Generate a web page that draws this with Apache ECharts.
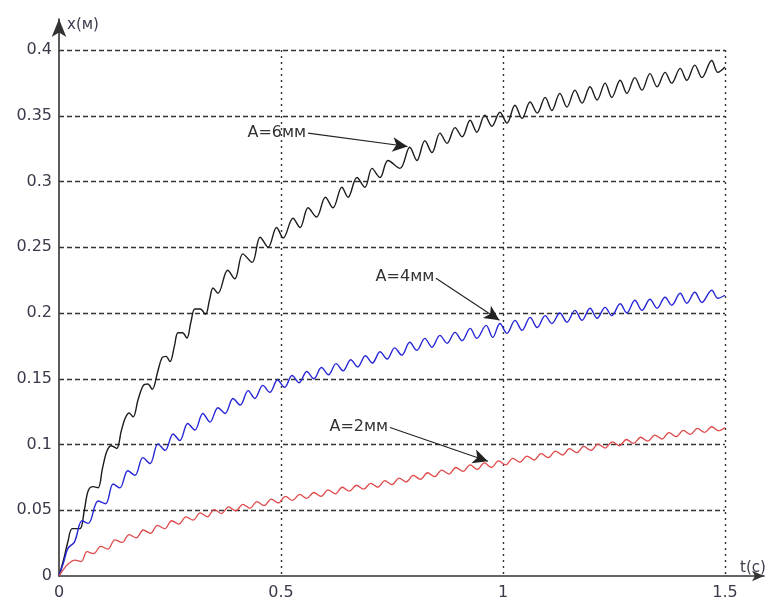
<!DOCTYPE html>
<html>
<head>
<meta charset="utf-8">
<script src="https://cdn.jsdelivr.net/npm/echarts@6/dist/echarts.min.js"></script>
<style>html,body{margin:0;padding:0;background:#fff}#c{width:772px;height:603px}</style>
</head>
<body>
<div id="c"></div>
<script>
// ---- data ----
const xTicksInterval = 0.5;   // t(c)
const yTicksInterval = 0.05;  // x(м)
const xAxisName = 't(c)';
const yAxisName = 'x(м)';

// A = 6 мм (black)
const t6 = [0,0.01,0.02,0.03,0.047,0.057,0.066,0.077,0.088,0.098,0.108,0.118,0.13,0.14,0.149,0.158,0.167,0.178,0.19,0.2,0.21,0.222,0.232,0.241,0.25,0.26,0.268,0.278,0.288,0.297,0.306,0.318,0.33,0.339,0.347,0.358,0.38,0.396,0.414,0.435,0.453,0.471,0.49,0.505,0.527,0.543,0.561,0.58,0.6,0.617,0.637,0.651,0.671,0.689,0.705,0.723,0.741,0.768,0.79,0.806,0.824,0.84,0.858,0.874,0.892,0.908,0.926,0.941,0.959,0.975,0.993,1.009,1.027,1.043,1.061,1.077,1.095,1.11,1.128,1.144,1.162,1.178,1.196,1.212,1.23,1.245,1.264,1.279,1.297,1.313,1.331,1.347,1.365,1.38,1.399,1.414,1.432,1.448,1.47,1.484,1.5];
const x6 = [0,0.012,0.026,0.036,0.036,0.05,0.065,0.068,0.067,0.082,0.095,0.099,0.097,0.11,0.12,0.124,0.121,0.134,0.145,0.146,0.142,0.155,0.166,0.167,0.163,0.175,0.185,0.185,0.181,0.193,0.203,0.203,0.199,0.21,0.219,0.215,0.2325,0.226,0.245,0.2385,0.2576,0.25,0.265,0.257,0.272,0.265,0.28,0.273,0.288,0.28,0.2956,0.288,0.303,0.2956,0.31,0.303,0.316,0.31,0.326,0.316,0.331,0.322,0.3368,0.329,0.341,0.334,0.3466,0.3375,0.3505,0.342,0.3527,0.3444,0.358,0.348,0.3604,0.352,0.364,0.354,0.367,0.3566,0.3695,0.3596,0.372,0.362,0.3748,0.364,0.377,0.367,0.379,0.3695,0.382,0.372,0.383,0.3748,0.386,0.377,0.3885,0.379,0.392,0.383,0.387];

// A = 4 мм (blue)
const t4 = [0,0.01,0.02,0.035,0.052,0.066,0.088,0.105,0.122,0.137,0.155,0.171,0.189,0.205,0.223,0.239,0.257,0.272,0.29,0.306,0.324,0.34,0.358,0.374,0.392,0.408,0.426,0.441,0.459,0.475,0.492,0.508,0.525,0.541,0.558,0.574,0.591,0.607,0.624,0.64,0.657,0.673,0.69,0.706,0.723,0.739,0.756,0.772,0.79,0.806,0.824,0.84,0.858,0.874,0.892,0.908,0.926,0.941,0.962,0.977,0.993,1.009,1.027,1.043,1.061,1.077,1.095,1.11,1.128,1.144,1.162,1.178,1.196,1.212,1.23,1.245,1.264,1.279,1.297,1.313,1.331,1.347,1.365,1.38,1.399,1.414,1.432,1.448,1.47,1.484,1.5];
const x4 = [0,0.01,0.021,0.026,0.042,0.04,0.057,0.055,0.07,0.067,0.08,0.0765,0.09,0.0855,0.1005,0.0955,0.108,0.103,0.116,0.111,0.1236,0.117,0.128,0.1236,0.135,0.13,0.141,0.135,0.145,0.1397,0.149,0.1435,0.1525,0.147,0.1555,0.15,0.1585,0.153,0.1615,0.156,0.1645,0.159,0.1675,0.162,0.1705,0.165,0.1735,0.168,0.1777,0.1716,0.1807,0.174,0.183,0.177,0.1853,0.179,0.1883,0.1807,0.1906,0.1815,0.192,0.1845,0.1944,0.1868,0.1967,0.189,0.198,0.192,0.2,0.193,0.202,0.1944,0.2036,0.196,0.2043,0.198,0.207,0.2,0.2097,0.202,0.2105,0.2036,0.212,0.2059,0.215,0.2074,0.2158,0.208,0.2173,0.2112,0.2135];

// A = 2 мм (red)
const t2 = [0,0.01,0.02,0.036,0.05,0.063,0.078,0.094,0.11,0.126,0.142,0.158,0.174,0.19,0.206,0.222,0.238,0.254,0.27,0.286,0.302,0.318,0.334,0.35,0.366,0.382,0.398,0.414,0.43,0.446,0.462,0.478,0.494,0.51,0.526,0.542,0.558,0.574,0.59,0.606,0.622,0.638,0.654,0.67,0.686,0.702,0.718,0.734,0.75,0.766,0.782,0.798,0.814,0.83,0.846,0.862,0.878,0.894,0.91,0.926,0.942,0.958,0.974,0.99,1.006,1.022,1.038,1.054,1.07,1.086,1.102,1.118,1.134,1.15,1.166,1.182,1.198,1.214,1.23,1.246,1.262,1.278,1.294,1.31,1.326,1.342,1.358,1.374,1.39,1.406,1.422,1.438,1.454,1.47,1.486,1.5];
const x2 = [0,0.005,0.009,0.012,0.011,0.0185,0.017,0.0225,0.0205,0.0275,0.0255,0.0315,0.029,0.035,0.0325,0.0385,0.036,0.042,0.0395,0.045,0.0425,0.048,0.045,0.0505,0.0475,0.0525,0.0495,0.0545,0.0515,0.0565,0.0535,0.0585,0.0555,0.0605,0.0575,0.062,0.059,0.0635,0.0605,0.0655,0.0625,0.0675,0.0645,0.069,0.066,0.0705,0.0675,0.0725,0.0695,0.0745,0.0715,0.0765,0.0735,0.0785,0.0755,0.0805,0.0775,0.0825,0.0795,0.0845,0.081,0.086,0.0825,0.0875,0.0845,0.0895,0.0865,0.0912,0.0882,0.093,0.09,0.095,0.092,0.0968,0.0938,0.0985,0.0955,0.1003,0.0973,0.102,0.099,0.1038,0.1008,0.1055,0.1025,0.1072,0.1042,0.109,0.106,0.1107,0.1077,0.1122,0.1092,0.1135,0.1105,0.113];

// annotations: label, arrow start [t, x], arrow end [t, x]
const annoLabels = ['A=6мм', 'A=4мм', 'A=2мм'];
const annoFrom = [[0.561, 0.3368], [0.849, 0.2264], [0.7455, 0.113]];
const annoTo   = [[0.785, 0.3266], [0.992, 0.1945], [0.966, 0.0872]];

// ---- chart ----
const FONT = 'DejaVu Sans';
const pairs = (t, v) => t.slice(0, Math.min(t.length, v.length)).map((tt, i) => [tt, v[i]]);

function anno(i) {
  return {
    silent: true,
    animation: false,
    symbol: ['none', 'arrow'],
    symbolSize: [11, 15],
    lineStyle: { color: '#222', width: 1.1, type: 'solid' },
    itemStyle: { color: '#111' },
    label: { show: true, position: 'start', distance: 2, formatter: '{b}', fontSize: 16, color: '#333', fontFamily: FONT },
    emphasis: { disabled: true },
    data: [[{ name: annoLabels[i], coord: annoFrom[i] }, { coord: annoTo[i] }]]
  };
}

const chart = echarts.init(document.getElementById('c'), null, { renderer: 'canvas' });
const labelStyle = { fontSize: 16, color: '#3a3a4c', fontFamily: FONT };
chart.setOption({
  animation: false,
  backgroundColor: '#ffffff',
  grid: [
    { left: 59, right: 47, top: 50, bottom: 27 },
    { left: 59, right: 8, top: 19, bottom: 27 }
  ],
  xAxis: [
    {
      type: 'value', gridIndex: 0, min: 0, max: 1.5, interval: xTicksInterval,
      axisLine: { show: false }, axisTick: { show: false },
      axisLabel: Object.assign({ margin: 9 }, labelStyle),
      splitLine: { show: true, showMinLine: false, lineStyle: { type: [2, 4], color: '#333', width: 1.4 } }
    },
    {
      type: 'value', gridIndex: 1, min: 0, max: 1,
      axisLine: { show: true, symbol: ['none', 'arrow'], symbolSize: [8, 12], lineStyle: { color: '#333', width: 1.6 } },
      axisTick: { show: false }, axisLabel: { show: false }, splitLine: { show: false },
      name: xAxisName, nameLocation: 'end', nameGap: -24,
      nameTextStyle: { fontSize: 15, color: '#3a3a4c', fontFamily: FONT, align: 'left', verticalAlign: 'bottom' }
    }
  ],
  yAxis: [
    {
      type: 'value', gridIndex: 0, min: 0, max: 0.4, interval: yTicksInterval,
      axisLine: { show: false }, axisTick: { show: false },
      axisLabel: Object.assign({ margin: 7 }, labelStyle),
      splitLine: { show: true, showMinLine: false, lineStyle: { type: [5, 3], color: '#333', width: 1.3 } }
    },
    {
      type: 'value', gridIndex: 1, min: 0, max: 1,
      axisLine: { show: true, symbol: ['none', 'arrow'], symbolSize: [11, 18], lineStyle: { color: '#333', width: 1.6 } },
      axisTick: { show: false }, axisLabel: { show: false }, splitLine: { show: false },
      name: yAxisName, nameLocation: 'end', nameGap: -6,
      nameTextStyle: { fontSize: 15, color: '#3a3a4c', fontFamily: FONT, align: 'left', verticalAlign: 'middle', padding: [0, 0, 0, 8] }
    }
  ],
  series: [
    {
      name: 'A=6мм', type: 'line', xAxisIndex: 0, yAxisIndex: 0, showSymbol: false, smooth: 0.35,
      lineStyle: { color: '#1c1c1c', width: 1.4 }, data: pairs(t6, x6), markLine: anno(0), z: 3
    },
    {
      name: 'A=4мм', type: 'line', xAxisIndex: 0, yAxisIndex: 0, showSymbol: false, smooth: 0.35,
      lineStyle: { color: '#2626d6', width: 1.4 }, data: pairs(t4, x4), markLine: anno(1), z: 3
    },
    {
      name: 'A=2мм', type: 'line', xAxisIndex: 0, yAxisIndex: 0, showSymbol: false, smooth: 0.35,
      lineStyle: { color: '#e04a4a', width: 1.3 }, data: pairs(t2, x2), markLine: anno(2), z: 3
    }
  ]
});
</script>
</body>
</html>
